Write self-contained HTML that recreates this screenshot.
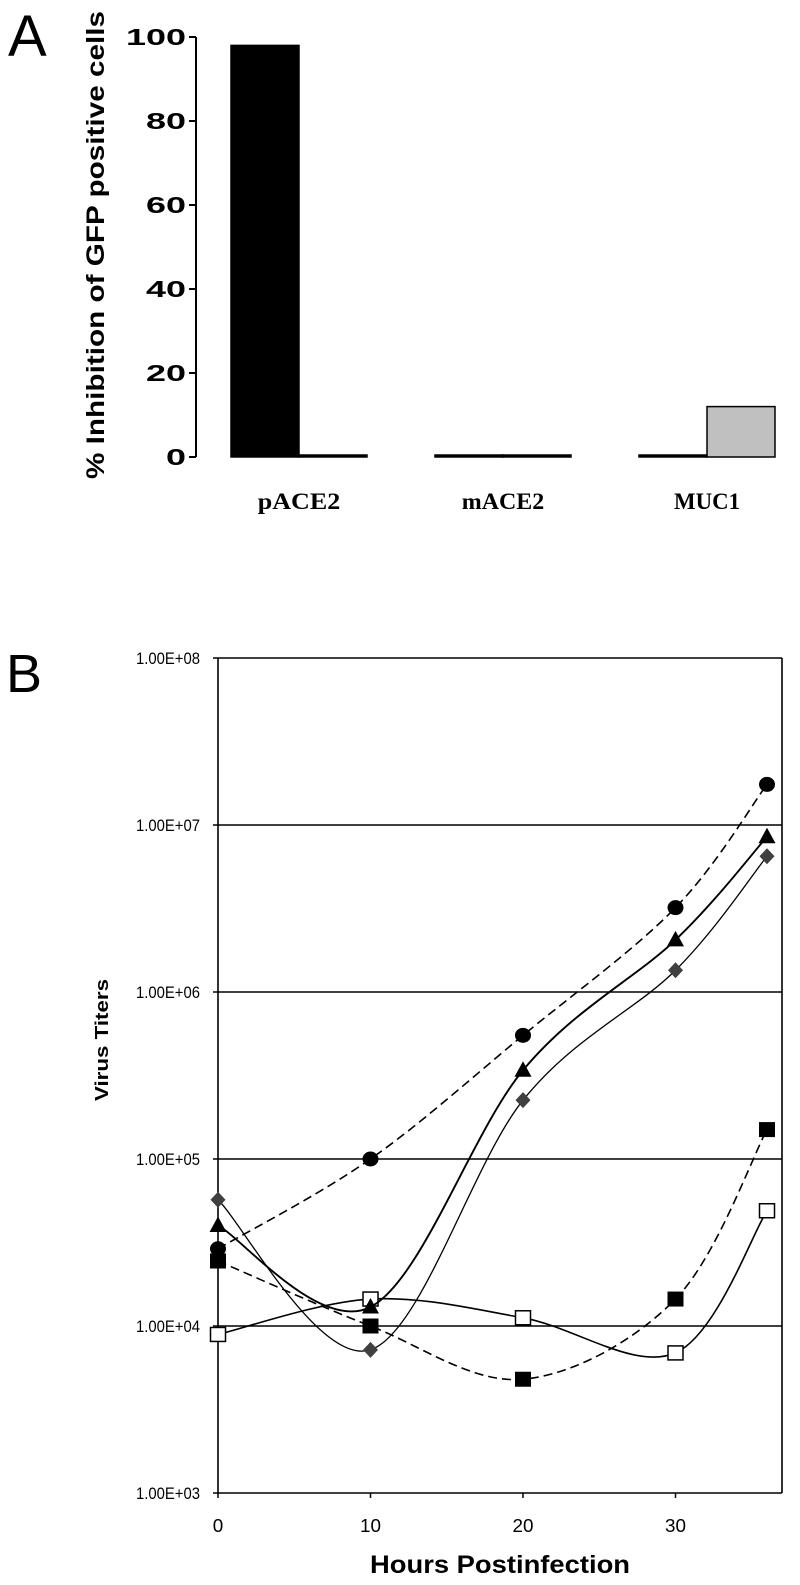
<!DOCTYPE html>
<html><head><meta charset="utf-8"><style>
html,body{margin:0;padding:0;background:#fff;}
svg{display:block;}
</style></head><body>
<svg id="fig" width="800" height="1585" xmlns="http://www.w3.org/2000/svg">
<text x="8" y="56" font-family="Liberation Sans, sans-serif" font-size="58" fill="#000">A</text>
<text x="6" y="692" font-family="Liberation Sans, sans-serif" font-size="54" fill="#000">B</text>
<g id="chartA"></g>
<g id="chartB"></g>
</svg>
<script>
// ---------- Panel A data ----------
const barCategories = ["pACE2", "mACE2", "MUC1"];
const barSeries1 = [98, 0, 0];
const barSeries2 = [0, 0, 12];
const barTicks = [0, 20, 40, 60, 80, 100];

// ---------- Panel B data ----------
const hours = [0, 10, 20, 30, 36];
const xTicks = [0, 10, 20, 30];
const yTickLabels = ["1.00E+03","1.00E+04","1.00E+05","1.00E+06","1.00E+07","1.00E+08"];
const seriesCircle = [29000, 100000, 550000, 3200000, 17500000];
const seriesTriangle = [40000, 13000, 340000, 2050000, 8500000];
const seriesDiamond = [57000, 7200, 225000, 1350000, 6500000];
const seriesFilledSquare = [24500, 10000, 4800, 14500, 150000];
const seriesOpenSquare = [8900, 14500, 11200, 6900, 49000];

const NS = "http://www.w3.org/2000/svg";
function mk(parent, tag, attrs){const e=document.createElementNS(NS,tag);for(const k in attrs)e.setAttribute(k,attrs[k]);parent.appendChild(e);return e;}

// ---------- Panel A ----------
(function(){
  const g = document.getElementById('chartA');
  const axX = 196, y0 = 457, y100 = 37;
  const yS = v => y0 + (y100 - y0) * v / 100;
  const groupLeft = [231, 435, 639], barW = 68;
  const ax = mk(g,'line',{x1:axX,y1:y100,x2:axX,y2:y0,stroke:'#000','stroke-width':2});
  
  
  barTicks.forEach(t=>{
    const tk = mk(g,'line',{x1:axX-7,y1:yS(t),x2:axX,y2:yS(t),stroke:'#000','stroke-width':2});
    
    
    const s = String(t);
    const tl = mk(g,'text',{x:186,y:yS(t)+8,'text-anchor':'end','font-family':'Liberation Sans, sans-serif','font-size':23,'font-weight':'bold',textLength:s.length*20,lengthAdjust:'spacingAndGlyphs'});
    tl.textContent = s;
    
    
  });
  barCategories.forEach((c,i)=>{
    const x = groupLeft[i];
    const v1 = barSeries1[i], v2 = barSeries2[i];
    const b1 = mk(g,'rect',{x:x,y:Math.min(yS(v1),y0-2),width:barW,height:Math.max(y0-yS(v1),2),fill:'#000',stroke:'#000','stroke-width':1.5});
    
    
    const b2 = mk(g,'rect',{x:x+barW,y:Math.min(yS(v2),y0-2),width:barW,height:Math.max(y0-yS(v2),2),fill:v2>0?'#c0c0c0':'#000',stroke:'#000','stroke-width':1.5});
    
    
    const cl = mk(g,'text',{x:x+barW,y:509,'text-anchor':'middle','font-family':'Liberation Serif, serif','font-size':23,'font-weight':'bold',textLength:c.length*16.5,lengthAdjust:'spacingAndGlyphs'});
    cl.textContent = c;
    
    
  });
  const yt = mk(g,'text',{transform:'translate(104,245) scale(0.8,1) rotate(-90)','text-anchor':'middle','font-family':'Liberation Sans, sans-serif','font-size':31,'font-weight':'bold',textLength:468,lengthAdjust:'spacingAndGlyphs'});
  yt.textContent = '% Inhibition of GFP positive cells';
  
  
})();

// ---------- Panel B ----------
(function(){
  const g = document.getElementById('chartB');
  const L = 218, R = 782, yTop = 658, yBot = 1493;
  const yS = v => yBot + (yTop - yBot) * (Math.log10(v) - 3) / 5;
  const xS = h => L + h * 15.25;
  yTickLabels.forEach((lab,i)=>{
    const y = yS(Math.pow(10, i + 3));
    const gl = mk(g,'line',{x1:L,y1:y,x2:R,y2:y,stroke:'#000','stroke-width':1.6});
    
    
    const tk = mk(g,'line',{x1:L-5,y1:y,x2:L,y2:y,stroke:'#000','stroke-width':1.5});
    
    
    const t = mk(g,'text',{x:200,y:y+6,'text-anchor':'end','font-family':'Liberation Sans, sans-serif','font-size':17,textLength:64,lengthAdjust:'spacingAndGlyphs'});
    t.textContent = lab;
    
    
  });
  const la = mk(g,'line',{x1:L,y1:yTop,x2:L,y2:yBot,stroke:'#000','stroke-width':1.6});
  
  
  const ra = mk(g,'line',{x1:R,y1:yTop,x2:R,y2:yBot,stroke:'#000','stroke-width':1.6});
  
  
  xTicks.forEach(h=>{
    const tk = mk(g,'line',{x1:xS(h),y1:yBot,x2:xS(h),y2:yBot+5,stroke:'#000','stroke-width':1.5});
    
    
    const s = String(h);
    const t = mk(g,'text',{x:xS(h),y:1532,'text-anchor':'middle','font-family':'Liberation Sans, sans-serif','font-size':18,textLength:s.length*10.5,lengthAdjust:'spacingAndGlyphs'});
    t.textContent = s;
    
    
  });
  const xt = mk(g,'text',{x:500,y:1573,'text-anchor':'middle','font-family':'Liberation Sans, sans-serif','font-size':25,'font-weight':'bold',textLength:260,lengthAdjust:'spacingAndGlyphs'});
  xt.textContent = 'Hours Postinfection';
  
  
  const yt = mk(g,'text',{transform:'translate(108,1040) scale(0.85,1) rotate(-90)','text-anchor':'middle','font-family':'Liberation Sans, sans-serif','font-size':22,'font-weight':'bold',textLength:122,lengthAdjust:'spacingAndGlyphs'});
  yt.textContent = 'Virus Titers';
  
  

  function smooth(pts){
    let d = 'M'+pts[0][0]+','+pts[0][1];
    for(let i=0;i<pts.length-1;i++){
      const p0=pts[Math.max(i-1,0)],p1=pts[i],p2=pts[i+1],p3=pts[Math.min(i+2,pts.length-1)];
      const t=1/6;
      const c1=[p1[0]+(p2[0]-p0[0])*t,p1[1]+(p2[1]-p0[1])*t];
      const c2=[p2[0]-(p3[0]-p1[0])*t,p2[1]-(p3[1]-p1[1])*t];
      d+=' C'+c1[0]+','+c1[1]+' '+c2[0]+','+c2[1]+' '+p2[0]+','+p2[1];
    }
    return d;
  }
  const defs = [
    {vals:seriesOpenSquare,name:'open-square',dash:null,w:1.6,marker:'osq'},
    {vals:seriesFilledSquare,name:'filled-square',dash:'9,5',w:1.6,marker:'sq'},
    {vals:seriesDiamond,name:'diamond',dash:null,w:1.3,marker:'dia'},
    {vals:seriesTriangle,name:'triangle',dash:null,w:1.9,marker:'tri'},
    {vals:seriesCircle,name:'circle',dash:'9,5',w:1.6,marker:'cir'}
  ];
  defs.forEach(s=>{
    const pts = s.vals.map((v,i)=>[xS(hours[i]),yS(v)]);
    const p = mk(g,'path',{d:smooth(pts),fill:'none',stroke:'#000','stroke-width':s.w});
    if(s.dash) p.setAttribute('stroke-dasharray',s.dash);
    
    
    pts.forEach(([x,y])=>{
      let m;
      if(s.marker==='osq') m = mk(g,'rect',{x:x-7.5,y:y-7,width:15,height:14,fill:'#fff',stroke:'#000','stroke-width':1.5});
      else if(s.marker==='sq') m = mk(g,'rect',{x:x-8,y:y-7.5,width:16,height:15,fill:'#000'});
      else if(s.marker==='dia') m = mk(g,'polygon',{points:`${x},${y-8} ${x+7.5},${y} ${x},${y+8} ${x-7.5},${y}`,fill:'#404040'});
      else if(s.marker==='tri') m = mk(g,'polygon',{points:`${x},${y-9} ${x+8.5},${y+6.5} ${x-8.5},${y+6.5}`,fill:'#000'});
      else m = mk(g,'ellipse',{cx:x,cy:y,rx:8,ry:7.5,fill:'#000'});
      
      
    });
  });
})();
</script>
</body></html>
